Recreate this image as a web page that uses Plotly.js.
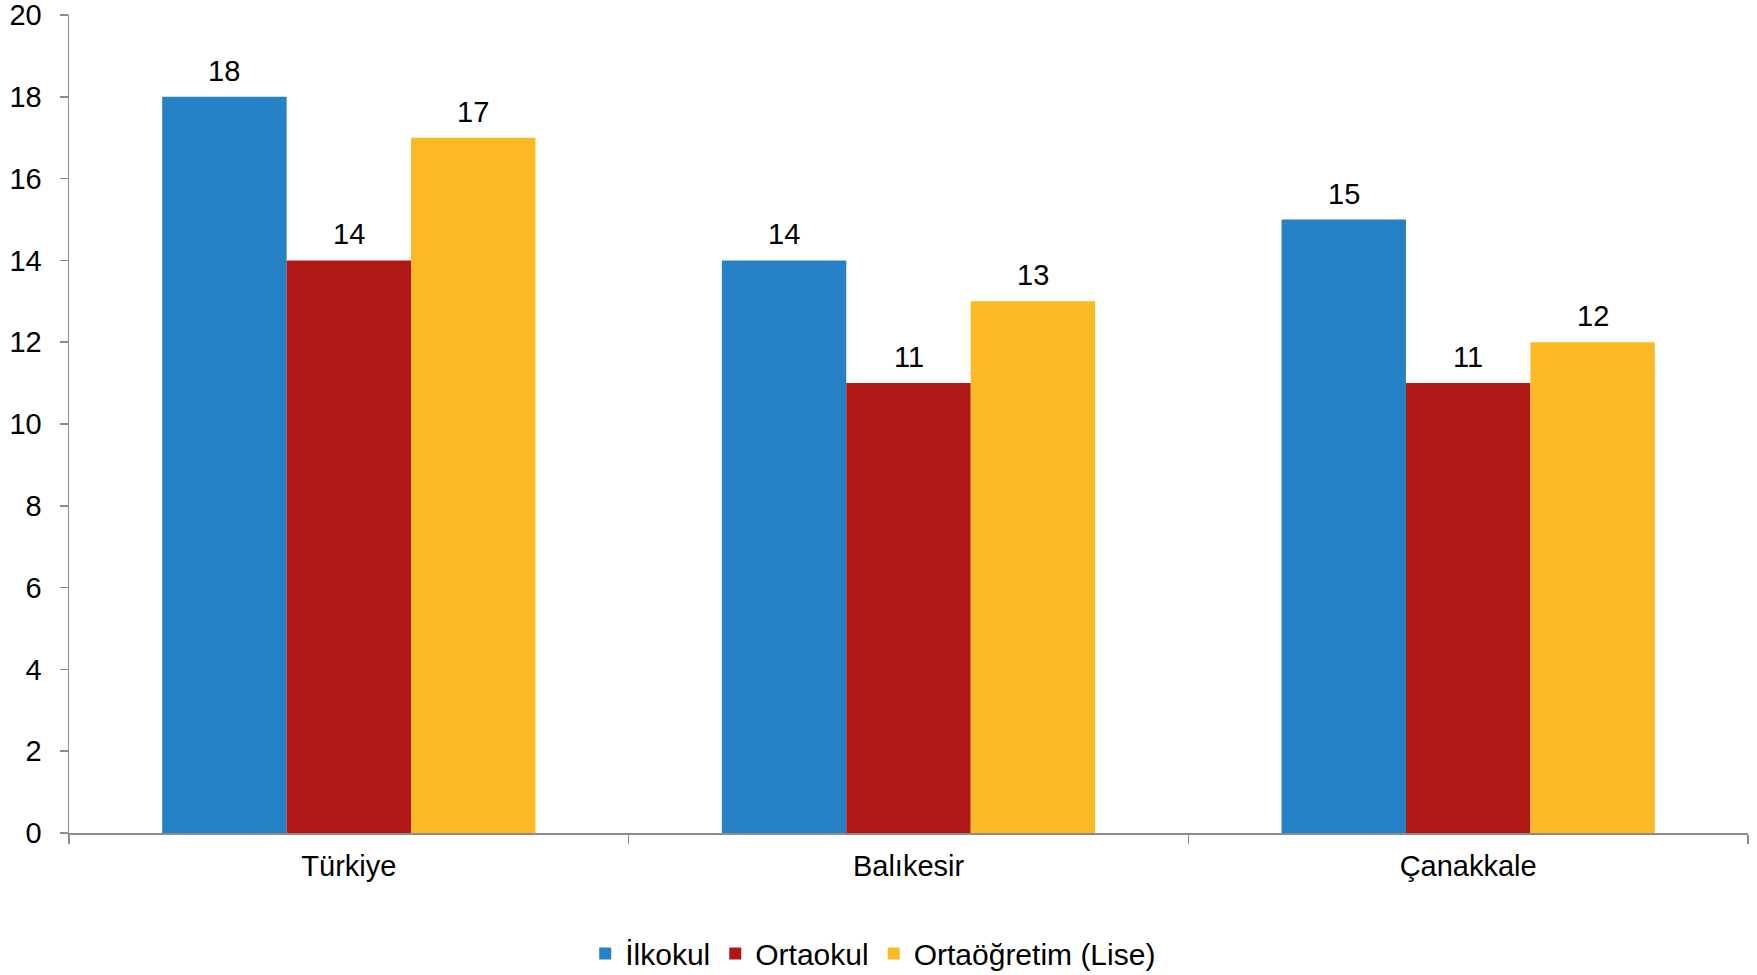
<!DOCTYPE html>
<html>
<head>
<meta charset="utf-8">
<script src="https://cdn.plot.ly/plotly-3.0.1.min.js"></script>
<style>
html,body{margin:0;padding:0;background:#fff;}
#chart{width:1757px;height:975px;}
</style>
</head>
<body>
<div id="chart"></div>
<script>
const categories = ["Türkiye", "Balıkesir", "Çanakkale"];
const seriesNames = ["İlkokul", "Ortaokul", "Ortaöğretim (Lise)"];
const ilkokul = [18, 14, 15];
const ortaokul = [14, 11, 11];
const lise = [17, 13, 12];
const seriesValues = [ilkokul, ortaokul, lise];
const seriesColors = ["#2680C5", "#B01818", "#FBBA24"];
const yTicks = [0, 2, 4, 6, 8, 10, 12, 14, 16, 18, 20];

const FONT = "Liberation Sans, Arial, sans-serif";
const FS = 29;

const traces = seriesValues.map((vals, i) => ({
  type: "bar",
  name: seriesNames[i],
  x: categories,
  y: vals,
  marker: {color: seriesColors[i], line: {width: 0}},
  offsetgroup: String(i),
  hoverinfo: "skip"
}));

const annotations = [];
const nS = seriesValues.length;
const groupW = 1 - 0.333;
seriesValues.forEach((vals, i) => {
  vals.forEach((v, j) => {
    annotations.push({
      x: j - groupW / 2 + groupW / nS * (i + 0.5),
      y: v,
      xref: "x", yref: "y",
      text: String(v),
      showarrow: false,
      yanchor: "bottom",
      yshift: 8,
      font: {family: FONT, size: FS, color: "#000"}
    });
  });
});

const layout = {
  width: 1757, height: 975,
  margin: {l: 69, r: 9, t: 15, b: 142},
  paper_bgcolor: "#fff",
  plot_bgcolor: "#fff",
  font: {family: FONT, size: FS, color: "#000"},
  barmode: "group",
  bargap: 0.333,
  bargroupgap: 0,
  showlegend: true,
  legend: {
    orientation: "h",
    xref: "container", yref: "container",
    x: 0.497, xanchor: "center",
    y: 0.022, yanchor: "middle",
    font: {family: FONT, size: 30, color: "#000"},
    itemclick: false, itemdoubleclick: false,
    traceorder: "normal"
  },
  xaxis: {
    type: "category",
    showline: true, linecolor: "#8c8c8c", linewidth: 2,
    ticks: "outside", tickson: "boundaries", ticklen: 9, tickcolor: "#8c8c8c", tickwidth: 1.5,
    showgrid: false, zeroline: false,
    tickfont: {family: FONT, size: FS, color: "#000"},
    ticklabelstandoff: 6,
    fixedrange: true
  },
  yaxis: {
    range: [0, 20],
    tickvals: yTicks,
    ticktext: yTicks.map(String),
    showline: true, linecolor: "#8c8c8c", linewidth: 1.5,
    ticks: "outside", ticklen: 8, tickcolor: "#8c8c8c", tickwidth: 1.5,
    showgrid: false, zeroline: false,
    tickfont: {family: FONT, size: FS, color: "#000"},
    ticklabelstandoff: 12,
    ticklabeloverflow: "allow",
    fixedrange: true
  },
  annotations: annotations
};

Plotly.newPlot("chart", traces, layout, {displayModeBar: false, staticPlot: true});
</script>
</body>
</html>
